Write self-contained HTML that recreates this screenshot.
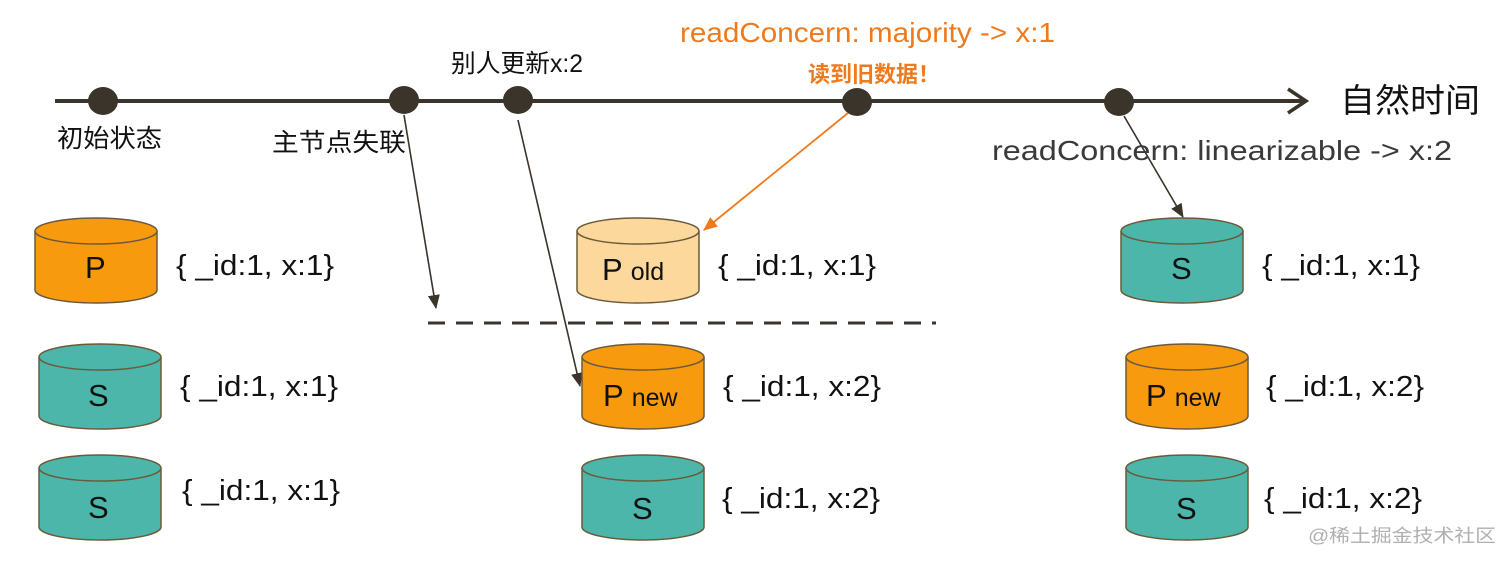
<!DOCTYPE html>
<html><head><meta charset="utf-8"><style>
html,body{margin:0;padding:0;background:#fff;width:1512px;height:563px;overflow:hidden}
text{font-family:"Liberation Sans","Noto Sans CJK SC",sans-serif}
</style></head><body>
<svg width="1512" height="563" viewBox="0 0 1512 563" xmlns="http://www.w3.org/2000/svg">
<defs>
<marker id="ao" markerWidth="14" markerHeight="12" refX="13" refY="6" orient="auto" markerUnits="userSpaceOnUse"><path d="M0,0 L14,6 L0,12 z" fill="#ee7a1c"/></marker>
<marker id="ab2" markerWidth="14" markerHeight="12" refX="13" refY="6" orient="auto" markerUnits="userSpaceOnUse"><path d="M0,0 L14,6 L0,12 z" fill="#3a342a"/></marker>
<g id="cyl">
<path d="M0,13 L0,72 A61,13 0 0 0 122,72 L122,13" stroke="#6b5a3a" stroke-width="1.5"/>
<ellipse cx="61" cy="13" rx="61" ry="13" stroke="#6b5a3a" stroke-width="1.5"/>
</g>
</defs>
<line x1="55" y1="101" x2="1303" y2="101" stroke="#3a342a" stroke-width="4"/>
<path d="M1288,89 L1306,101 L1288,113" fill="none" stroke="#3a342a" stroke-width="3.5"/>
<g fill="#3a342a">
<ellipse cx="103" cy="101" rx="15" ry="14"/>
<ellipse cx="404" cy="100" rx="15" ry="14"/>
<ellipse cx="518" cy="100" rx="15" ry="14"/>
<ellipse cx="857" cy="102" rx="15" ry="14"/>
<ellipse cx="1119" cy="102" rx="15" ry="14"/>
</g>
<text x="57" y="147" font-size="25" textLength="105" lengthAdjust="spacingAndGlyphs" fill="#111">初始状态</text>
<text x="272" y="151" font-size="25" textLength="134" lengthAdjust="spacingAndGlyphs" fill="#111">主节点失联</text>
<text x="451" y="72" font-size="25" textLength="132" lengthAdjust="spacingAndGlyphs" fill="#111">别人更新x:2</text>
<text x="680" y="42" font-size="28" textLength="375" lengthAdjust="spacingAndGlyphs" fill="#ee7a1c">readConcern: majority -&gt; x:1</text>
<text x="808" y="82" font-size="22" font-weight="bold" fill="#ee7a1c">读到旧数据！</text>
<text x="1340" y="112" font-size="33" textLength="140" lengthAdjust="spacingAndGlyphs" fill="#111">自然时间</text>
<text x="992" y="160" font-size="28" textLength="460" lengthAdjust="spacingAndGlyphs" fill="#3a3a3a">readConcern: linearizable -&gt; x:2</text>
<line x1="404" y1="115" x2="436" y2="308" stroke="#3a342a" stroke-width="1.6" marker-end="url(#ab2)"/>
<line x1="518" y1="120" x2="580" y2="386" stroke="#3a342a" stroke-width="1.6" marker-end="url(#ab2)"/>
<line x1="848" y1="113" x2="704" y2="230" stroke="#ee7a1c" stroke-width="1.8" marker-end="url(#ao)"/>
<line x1="1124" y1="116" x2="1183" y2="217" stroke="#3a342a" stroke-width="1.6" marker-end="url(#ab2)"/>
<line x1="428" y1="323" x2="936" y2="323" stroke="#3a342a" stroke-width="3" stroke-dasharray="17,11"/>
<use href="#cyl" x="35" y="218" fill="#f79a0e"/>
<use href="#cyl" x="39" y="344" fill="#4db6aa"/>
<use href="#cyl" x="39" y="455" fill="#4db6aa"/>
<use href="#cyl" x="577" y="218" fill="#fcd89c"/>
<use href="#cyl" x="582" y="344" fill="#f79a0e"/>
<use href="#cyl" x="582" y="455" fill="#4db6aa"/>
<use href="#cyl" x="1121" y="218" fill="#4db6aa"/>
<use href="#cyl" x="1126" y="344" fill="#f79a0e"/>
<use href="#cyl" x="1126" y="455" fill="#4db6aa"/>
<g font-size="31" fill="#111">
<text x="85" y="278">P</text>
<text x="88" y="406">S</text>
<text x="88" y="518">S</text>
<text x="602" y="280">P <tspan font-size="25">old</tspan></text>
<text x="603" y="406">P <tspan font-size="25">new</tspan></text>
<text x="632" y="519">S</text>
<text x="1171" y="279">S</text>
<text x="1146" y="406">P <tspan font-size="25">new</tspan></text>
<text x="1176" y="519">S</text>
</g>
<g font-size="29" fill="#111">
<text x="176" y="275" textLength="158" lengthAdjust="spacingAndGlyphs">{ _id:1, x:1}</text>
<text x="180" y="396" textLength="158" lengthAdjust="spacingAndGlyphs">{ _id:1, x:1}</text>
<text x="182" y="500" textLength="158" lengthAdjust="spacingAndGlyphs">{ _id:1, x:1}</text>
<text x="718" y="275" textLength="158" lengthAdjust="spacingAndGlyphs">{ _id:1, x:1}</text>
<text x="723" y="396" textLength="158" lengthAdjust="spacingAndGlyphs">{ _id:1, x:2}</text>
<text x="722" y="508" textLength="158" lengthAdjust="spacingAndGlyphs">{ _id:1, x:2}</text>
<text x="1262" y="275" textLength="158" lengthAdjust="spacingAndGlyphs">{ _id:1, x:1}</text>
<text x="1266" y="396" textLength="158" lengthAdjust="spacingAndGlyphs">{ _id:1, x:2}</text>
<text x="1264" y="508" textLength="158" lengthAdjust="spacingAndGlyphs">{ _id:1, x:2}</text>
</g>
<text x="1308" y="542" font-size="18" fill="#b0b0b0" textLength="188" lengthAdjust="spacingAndGlyphs">@稀土掘金技术社区</text>
</svg>
</body></html>
